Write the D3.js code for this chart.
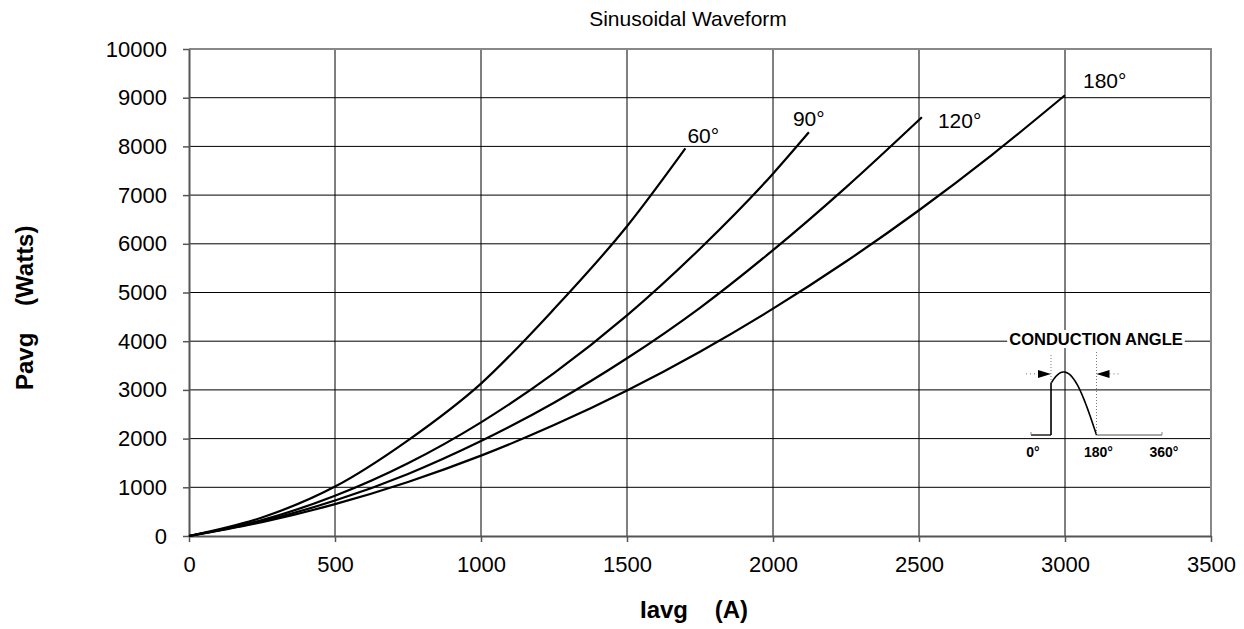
<!DOCTYPE html>
<html>
<head>
<meta charset="utf-8">
<script src="https://cdn.jsdelivr.net/npm/d3@7"></script>
<style>
  body { margin: 0; background: #fff; }
  svg { display: block; font-family: "Liberation Sans", Arial, Helvetica, sans-serif; }
</style>
</head>
<body>
<script>
// tick values
const xTicks = [0, 500, 1000, 1500, 2000, 2500, 3000, 3500];
const yTicks = [0, 1000, 2000, 3000, 4000, 5000, 6000, 7000, 8000, 9000, 10000];

// curves: Iavg (A) -> Pavg (W)
const angles = ["60°", "90°", "120°", "180°"];
const i60 = [0, 250, 500, 750, 1000, 1250, 1500, 1700];
const p60 = [0, 380, 1015, 1965, 3130, 4660, 6360, 7960];
const i90 = [0, 250, 500, 750, 1000, 1250, 1500, 1750, 2000, 2123];
const p90 = [0, 327, 826, 1494, 2334, 3345, 4530, 5900, 7440, 8290];
const i120 = [0, 250, 500, 750, 1000, 1250, 1500, 1750, 2000, 2250, 2510];
const p120 = [0, 303, 728, 1275, 1950, 2736, 3649, 4686, 5870, 7160, 8600];
const i180 = [0, 250, 500, 750, 1000, 1250, 1500, 1750, 2000, 2250, 2500, 2750, 3000];
const p180 = [0, 284, 654, 1110, 1650, 2277, 2988, 3785, 4668, 5636, 6689, 7827, 9050];

// inset sketch
const insetTicks = [0, 180, 360];
const insetLabels = ["0°", "180°", "360°"];
const insetStart = 55; // angle where conduction begins

const width = 1244, height = 629;
const margin = { left: 189, right: 33, top: 49, bottom: 93 };

const svg = d3.select("body").append("svg")
  .attr("width", width)
  .attr("height", height);

const x = d3.scaleLinear().domain([0, 3500]).range([margin.left, width - margin.right]);
const y = d3.scaleLinear().domain([0, 10000]).range([height - margin.bottom, margin.top]);

// title
svg.append("text")
  .attr("x", 688)
  .attr("y", 26)
  .attr("text-anchor", "middle")
  .style("font-size", "21px")
  .text("Sinusoidal Waveform");

// grid
svg.append("g")
  .selectAll("line")
  .data(xTicks.slice(1, -1))
  .join("line")
  .attr("x1", d => x(d)).attr("x2", d => x(d))
  .attr("y1", y(0)).attr("y2", y(10000))
  .attr("stroke", "#000").attr("stroke-width", 1);

svg.append("g")
  .selectAll("line")
  .data(yTicks.slice(1, -1))
  .join("line")
  .attr("x1", x(0)).attr("x2", x(3500))
  .attr("y1", d => y(d)).attr("y2", d => y(d))
  .attr("stroke", "#000").attr("stroke-width", 1);

// top / right border
svg.append("path")
  .attr("d", `M${x(0)},${y(10000)}H${x(3500)}V${y(0)}`)
  .attr("fill", "none")
  .attr("stroke", "#888")
  .attr("stroke-width", 2);

// axes
const xAxis = d3.axisBottom(x).tickValues(xTicks).tickFormat(d3.format("d"))
  .tickSize(6).tickSizeOuter(0).tickPadding(14);
const yAxis = d3.axisLeft(y).tickValues(yTicks).tickFormat(d3.format("d"))
  .tickSize(6).tickSizeOuter(0).tickPadding(16);

const gx = svg.append("g")
  .attr("transform", `translate(0,${y(0)})`)
  .call(xAxis);
const gy = svg.append("g")
  .attr("transform", `translate(${x(0)},0)`)
  .call(yAxis);

[gx, gy].forEach(g => {
  g.select(".domain").attr("stroke", "#555").attr("stroke-width", 2);
  g.selectAll(".tick line").attr("stroke", "#555").attr("stroke-width", 1.5);
  g.selectAll("text")
    .style("font-size", "22px")
    .style("font-family", '"Liberation Sans", Arial, sans-serif')
    .attr("fill", "#000");
});

// axis labels
svg.append("text")
  .attr("x", 640)
  .attr("y", 618)
  .style("font-size", "24px")
  .style("font-weight", "bold")
  .style("white-space", "pre")
  .text("Iavg    (A)");

svg.append("text")
  .attr("transform", "translate(33,390) rotate(-90)")
  .style("font-size", "24px")
  .style("font-weight", "bold")
  .style("white-space", "pre")
  .text("Pavg    (Watts)");

// curves
const series = [
  { name: angles[0], pts: i60.map((v, k) => [v, p60[k]]) },
  { name: angles[1], pts: i90.map((v, k) => [v, p90[k]]) },
  { name: angles[2], pts: i120.map((v, k) => [v, p120[k]]) },
  { name: angles[3], pts: i180.map((v, k) => [v, p180[k]]) }
];
// label offsets from each curve end
const labelOffset = [[2, -5], [-16, -6], [16, 11], [18, -7]];

const line = d3.line()
  .x(d => x(d[0]))
  .y(d => y(d[1]))
  .curve(d3.curveMonotoneX);

svg.append("g")
  .selectAll("path")
  .data(series)
  .join("path")
  .attr("fill", "none")
  .attr("stroke", "#000")
  .attr("stroke-width", 2.2)
  .attr("d", d => line(d.pts));

svg.append("g")
  .selectAll("text")
  .data(series)
  .join("text")
  .attr("x", (d, k) => x(d.pts[d.pts.length - 1][0]) + labelOffset[k][0])
  .attr("y", (d, k) => y(d.pts[d.pts.length - 1][1]) + labelOffset[k][1])
  .style("font-size", "21px")
  .text(d => d.name);

// inset: conduction angle sketch
const ax = d3.scaleLinear().domain([0, 360]).range([1031, 1162]);
const ay = d3.scaleLinear().domain([0, 1]).range([435, 372]);
const inset = svg.append("g");

const title = inset.append("text")
  .attr("x", 1096)
  .attr("y", 345)
  .attr("text-anchor", "middle")
  .style("font-size", "16.5px")
  .style("font-weight", "bold")
  .text("CONDUCTION ANGLE");
const bb = title.node().getBBox();
inset.insert("rect", "text")
  .attr("x", bb.x - 2).attr("y", bb.y)
  .attr("width", bb.width + 4).attr("height", bb.height)
  .attr("fill", "#fff");

// baseline
inset.append("path")
  .attr("d", `M${ax(0)},${ay(0)}H${ax(insetStart)}`)
  .attr("stroke", "#222").attr("stroke-width", 1.5);
inset.append("path")
  .attr("d", `M${ax(180)},${ay(0)}H${ax(360)}`)
  .attr("stroke", "#888").attr("stroke-width", 1.5);
inset.selectAll(".endtick")
  .data([0, 360])
  .join("line")
  .attr("x1", d => ax(d)).attr("x2", d => ax(d))
  .attr("y1", ay(0)).attr("y2", ay(0) - 3)
  .attr("stroke", "#888");

// pulse
const wave = d3.range(insetStart, 181, 3).map(a => [a, Math.sin(a * Math.PI / 180)]);
wave.push([180, 0]);
inset.append("path")
  .attr("d", `M${ax(insetStart)},${ay(0)}` + d3.line().x(d => ax(d[0])).y(d => ay(d[1]))(wave).replace(/^M/, "L"))
  .attr("fill", "none")
  .attr("stroke", "#000")
  .attr("stroke-width", 1.6);

// dotted markers
const arrowY = ay(0.97);
inset.append("line")
  .attr("x1", ax(insetStart)).attr("x2", ax(insetStart))
  .attr("y1", 355).attr("y2", ay(Math.sin(insetStart * Math.PI / 180)))
  .attr("stroke", "#777").attr("stroke-dasharray", "1,2");
inset.append("line")
  .attr("x1", ax(180)).attr("x2", ax(180))
  .attr("y1", 352).attr("y2", ay(0))
  .attr("stroke", "#777").attr("stroke-dasharray", "1,2");
inset.append("line")
  .attr("x1", ax(insetStart) - 25).attr("x2", ax(insetStart) - 13)
  .attr("y1", arrowY).attr("y2", arrowY)
  .attr("stroke", "#777").attr("stroke-dasharray", "1,3");
inset.append("line")
  .attr("x1", ax(180) + 13).attr("x2", ax(180) + 25)
  .attr("y1", arrowY).attr("y2", arrowY)
  .attr("stroke", "#777").attr("stroke-dasharray", "1,3");
inset.append("path")
  .attr("d", `M${ax(insetStart)},${arrowY}l-13,-4v8z`)
  .attr("fill", "#000");
inset.append("path")
  .attr("d", `M${ax(180)},${arrowY}l13,-4v8z`)
  .attr("fill", "#000");

inset.selectAll(".lbl")
  .data(insetTicks)
  .join("text")
  .attr("x", d => ax(d) + 2)
  .attr("y", 457)
  .attr("text-anchor", "middle")
  .style("font-size", "14px")
  .style("font-weight", "bold")
  .text((d, k) => insetLabels[k]);
</script>
</body>
</html>
